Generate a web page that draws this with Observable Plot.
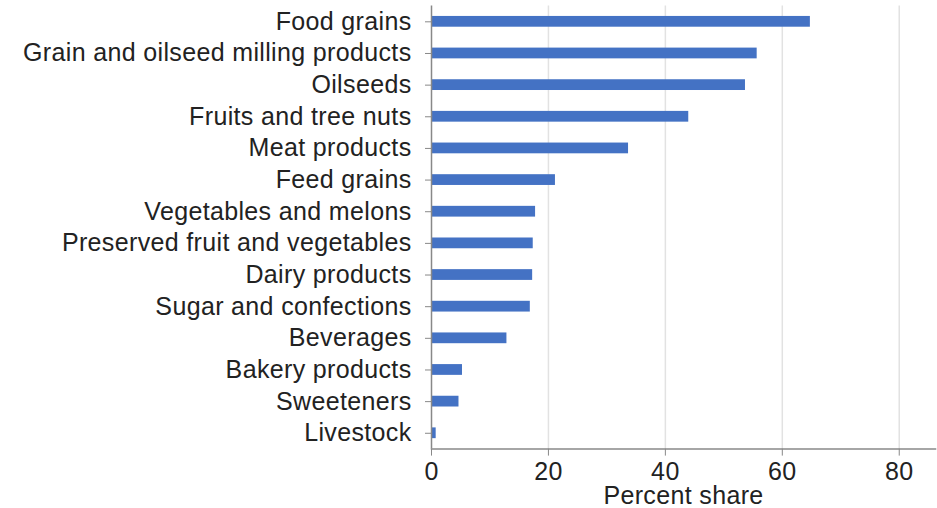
<!DOCTYPE html>
<html><head><meta charset="utf-8">
<script src="https://cdn.jsdelivr.net/npm/d3@7"></script>
<script src="https://cdn.jsdelivr.net/npm/@observablehq/plot@0.6"></script>
<style>body{margin:0;background:#fff}</style>
</head><body><div id="chart"></div>
<script>
const categories = [
  "Food grains",
  "Grain and oilseed milling products",
  "Oilseeds",
  "Fruits and tree nuts",
  "Meat products",
  "Feed grains",
  "Vegetables and melons",
  "Preserved fruit and vegetables",
  "Dairy products",
  "Sugar and confections",
  "Beverages",
  "Bakery products",
  "Sweeteners",
  "Livestock"
];
const values = [64.8, 55.7, 53.7, 44.0, 33.7, 21.2, 17.8, 17.4, 17.3, 16.9, 12.9, 5.3, 4.7, 0.8];
const xTicks = [0, 20, 40, 60, 80];
const gridTicks = [20, 40, 60, 80];
const xLabel = "Percent share";

const data = categories.map((c, i) => ({category: c, value: values[i]}));

const chart = Plot.plot({
  width: 937,
  height: 508,
  marginTop: 5.5,
  marginBottom: 59.4,
  marginLeft: 431,
  marginRight: 2,
  style: {fontFamily: "'Liberation Sans', Arial, sans-serif", fontSize: "25px", letterSpacing: "0.35px", color: "#222", background: "#fff"},
  x: {domain: [0, 86.2], ticks: xTicks, label: null},
  y: {domain: categories, paddingInner: 0.66, paddingOuter: 0.33, round: false, label: null},
  marks: [
    Plot.gridX(gridTicks, {stroke: "#e2e2e2", strokeOpacity: 1, strokeWidth: 1.5}),
    Plot.barX(data, {x: "value", y: "category", fill: "#4472C4"}),
    Plot.axisX({ticks: xTicks, tickSize: 7, tickPadding: 6, stroke: "#888", fill: "#222", label: xLabel, labelArrow: false, labelAnchor: "center", labelOffset: 55}),
    Plot.axisY({tickSize: 6, tickPadding: 14, stroke: "#888", fill: "#222", label: null}),
    Plot.ruleX([0], {stroke: "#888", strokeWidth: 1.5}),
    Plot.frame({anchor: "bottom", stroke: "#888", strokeWidth: 1.5})
  ]
});
document.getElementById("chart").appendChild(chart);
</script>
</body></html>
